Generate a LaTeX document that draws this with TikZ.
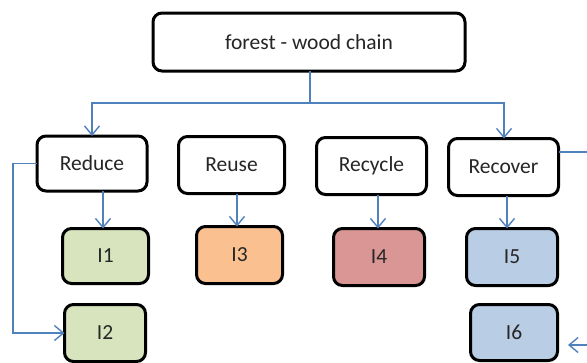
\documentclass[tikz,border=0pt]{standalone}
\usepackage{fontspec}
\setmainfont{Carlito}
\usetikzlibrary{arrows.meta}
\definecolor{linkblue}{HTML}{4F81BD}
\definecolor{fgreen}{HTML}{D7E4BD}
\definecolor{forange}{HTML}{FAC090}
\definecolor{fred}{HTML}{D99694}
\definecolor{fblue}{HTML}{B9CDE5}
\definecolor{txt}{HTML}{262626}
\tikzset{
  box/.style={draw=black, line width=3pt, rounded corners=9pt, inner sep=0pt,
    outer sep=0pt, font=\fontsize{21.5}{25}\selectfont, text=txt, fill=white},
  link/.style={draw=linkblue, line width=1.4pt,
    -{Straight Barb[length=9pt,width=15pt,line width=1.4pt]}},
  plain/.style={draw=linkblue, line width=1.4pt}
}
\begin{document}
\begin{tikzpicture}[x=1pt,y=-1pt]
\useasboundingbox (0,0) rectangle (587,362);
\node[box, minimum width=312pt, minimum height=58pt] (top) at (309,42) {forest - wood chain};
\node[box, minimum width=110pt, minimum height=55pt] (red) at (92,163.5) {Reduce};
\node[box, minimum width=106pt, minimum height=57pt] (reu) at (231.5,165) {Reuse};
\node[box, minimum width=110pt, minimum height=57pt] (rec) at (371.5,166) {Recycle};
\node[box, minimum width=110pt, minimum height=57pt] (rcv) at (503.5,167) {Recover};
\node[box, fill=fgreen, minimum width=86pt, minimum height=55pt] (i1) at (105.5,256) {I1};
\node[box, fill=forange, minimum width=86pt, minimum height=57pt] (i3) at (239.5,255) {I3};
\node[box, fill=fred, minimum width=91pt, minimum height=57pt] (i4) at (379,257) {I4};
\node[box, fill=fblue, minimum width=91pt, minimum height=57pt] (i5) at (512,257) {I5};
\node[box, fill=fgreen, minimum width=81pt, minimum height=57pt] (i2) at (105,333) {I2};
\node[box, fill=fblue, minimum width=87pt, minimum height=56pt] (i6) at (514,332.5) {I6};
% top connectors
\coordinate (split) at (310,103);
\draw[plain] (top.south -| split) -- (split);
\draw[link] (split) -- (92,103) -- (red.north);
\draw[link] (split) -- (504,103) -- (504,138.5);
% down arrows
\draw[link] (103,191) -- (i1.north -| 103,0);
\draw[link] (237,193.5) -- (i3.north -| 237,0);
\draw[link] (378,194.5) -- (i4.north -| 378,0);
\draw[link] (507,195.5) -- (i5.north -| 507,0);
% left loop
\coordinate (lc1) at (13,163.5);
\coordinate (lc2) at (13,333);
\draw[link] (red.west) -- (lc1) -- (lc2) -- (i2.west);
% right loop
\coordinate (rc0) at (558.5,152);
\coordinate (rc1) at (600,152);
\coordinate (rc2) at (600,345);
\coordinate (rc3) at (568,345);
\draw[link] (rc0) -- (rc1) -- (rc2) -- (rc3);
\end{tikzpicture}
\end{document}
